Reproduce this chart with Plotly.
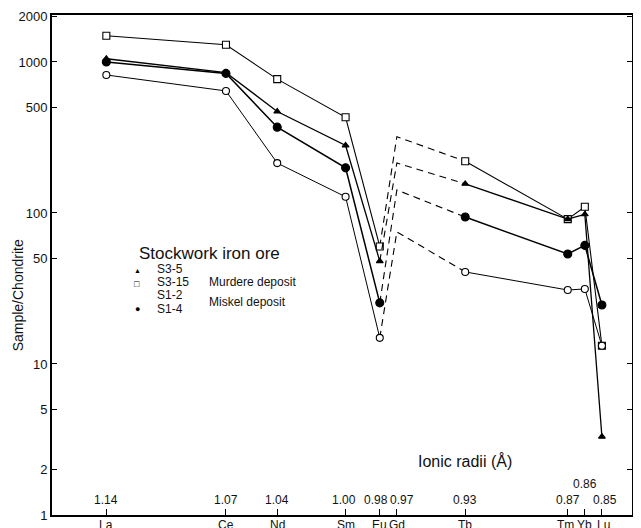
import plotly.graph_objects as go

# ---- data ----
elements = ["La", "Ce", "Nd", "Sm", "Eu", "Gd", "Tb", "Tm", "Yb", "Lu"]
radii = [1.14, 1.07, 1.04, 1.00, 0.98, 0.97, 0.93, 0.87, 0.86, 0.85]
radius_labels = ["1.14", "1.07", "1.04", "1.00", "0.98", "0.97", "0.93", "0.87", "0.86", "0.85"]

s3_15 = [1490, 1300, 770, 430, 60, 320, 220, 91, 110, 13.2]   # open square
s3_5 = [1050, 850, 470, 280, 48, 214, 156, 91, 98, 3.3]       # filled triangle
s1_4 = [1000, 840, 370, 199, 25.4, 142, 94, 53.5, 61, 24.6]   # filled circle
s1_2 = [820, 643, 214, 128, 14.9, 75, 40.7, 30.9, 31.4, 13.2] # open circle

y_tickvals = [1, 2, 5, 10, 50, 100, 500, 1000, 2000]
y_ticktext = ["1", "2", "5", "10", "50", "100", "500", "1000", "2000"]

# (name, values, symbol, fill, size, line width)
series = [
    ("S3-15", s3_15, "square", "white", 7, 1.1),
    ("S3-5", s3_5, "triangle-up", "black", 6, 1.3),
    ("S1-4", s1_4, "circle", "black", 8, 1.5),
    ("S1-2", s1_2, "circle", "white", 7, 1.0),
]

EU = elements.index("Eu")
TB = elements.index("Tb")

fig = go.Figure()
for name, vals, sym, fill, msize, lw in series:
    mk = dict(symbol=sym, size=msize, color=fill, line=dict(color="black", width=1.1))
    fig.add_trace(go.Scatter(
        x=radii[EU:TB + 1], y=vals[EU:TB + 1], mode="lines",
        line=dict(color="black", width=1.1, dash="7px,5px"),
        showlegend=False, name=name, hoverinfo="skip"))
    fig.add_trace(go.Scatter(
        x=radii[:EU + 1], y=vals[:EU + 1], mode="lines+markers",
        line=dict(color="black", width=lw), marker=mk,
        showlegend=False, name=name))
    fig.add_trace(go.Scatter(
        x=radii[TB:], y=vals[TB:], mode="lines+markers",
        line=dict(color="black", width=lw), marker=mk,
        showlegend=False, name=name))

font_main = "Arial, Liberation Sans, sans-serif"

# horizontal nudges for crowded radius labels (styling only)
label_shift = {"1.00": -2, "0.98": -4, "0.97": 5, "0.85": 3}
element_shift = {"Tm": -2, "Lu": 2}

annotations = []
for r, lab in zip(radii, radius_labels):
    yy = 0.062 if lab == "0.86" else 0.03
    annotations.append(dict(x=r, y=yy, xref="x", yref="paper", text=lab, showarrow=False,
                            xshift=label_shift.get(lab, 0),
                            font=dict(size=12, color="#111", family=font_main),
                            xanchor="center", yanchor="middle"))
for r, el in zip(radii, elements):
    annotations.append(dict(x=r, y=0.0, xref="x", yref="paper", text=el, showarrow=False,
                            yshift=-10, xshift=element_shift.get(el, 0),
                            font=dict(size=12, color="#111", family=font_main),
                            xanchor="center", yanchor="middle"))

annotations += [
    dict(x=0.712, y=0.108, xref="paper", yref="paper", text="Ionic radii (Å)", showarrow=False,
         font=dict(size=16, color="#111", family=font_main), xanchor="center", yanchor="middle"),
    dict(x=-0.058, y=0.44, xref="paper", yref="paper", text="Sample/Chondrite", showarrow=False,
         textangle=-90, font=dict(size=14, color="#111", family=font_main),
         xanchor="center", yanchor="middle"),
    dict(x=0.1466, y=0.524, xref="paper", yref="paper", text="Stockwork iron ore", showarrow=False,
         font=dict(size=17, color="#111", family=font_main), xanchor="left", yanchor="middle"),
    dict(x=0.178, y=0.492, xref="paper", yref="paper", text="S3-5", showarrow=False,
         font=dict(size=12, color="#111", family=font_main), xanchor="left", yanchor="middle"),
    dict(x=0.178, y=0.466, xref="paper", yref="paper", text="S3-15", showarrow=False,
         font=dict(size=12, color="#111", family=font_main), xanchor="left", yanchor="middle"),
    dict(x=0.178, y=0.44, xref="paper", yref="paper", text="S1-2", showarrow=False,
         font=dict(size=12, color="#111", family=font_main), xanchor="left", yanchor="middle"),
    dict(x=0.178, y=0.413, xref="paper", yref="paper", text="S1-4", showarrow=False,
         font=dict(size=12, color="#111", family=font_main), xanchor="left", yanchor="middle"),
    dict(x=0.267, y=0.466, xref="paper", yref="paper", text="Murdere deposit", showarrow=False,
         font=dict(size=12, color="#111", family=font_main), xanchor="left", yanchor="middle"),
    dict(x=0.267, y=0.427, xref="paper", yref="paper", text="Miskel deposit", showarrow=False,
         font=dict(size=12, color="#111", family=font_main), xanchor="left", yanchor="middle"),
    dict(x=0.147, y=0.49, xref="paper", yref="paper", text="▲", showarrow=False,
         font=dict(size=7, color="black", family=font_main), xanchor="center", yanchor="middle"),
    dict(x=0.147, y=0.462, xref="paper", yref="paper", text="□", showarrow=False,
         font=dict(size=9, color="black", family=font_main), xanchor="center", yanchor="middle"),
    dict(x=0.147, y=0.413, xref="paper", yref="paper", text="●", showarrow=False,
         font=dict(size=9, color="black", family=font_main), xanchor="center", yanchor="middle"),
]

# the page body adds an 8px offset; figure sized so the plot frame lands at 52..632 x 15..515
fig.update_layout(
    width=633, height=520,
    margin=dict(l=44, r=9, t=7, b=13, autoexpand=False),
    paper_bgcolor="white", plot_bgcolor="white",
    font=dict(family=font_main, color="#111"),
    annotations=annotations,
    showlegend=False,
)
fig.update_xaxes(
    range=[1.1718, 0.8324], tickvals=radii, showticklabels=False,
    ticks="inside", ticklen=6, tickwidth=1.2, tickcolor="black",
    showline=True, linecolor="black", linewidth=1.5, mirror=True,
    showgrid=False, zeroline=False, automargin=False,
)
fig.update_yaxes(
    type="log", range=[0, 3.311], tickvals=y_tickvals, ticktext=y_ticktext,
    ticks="inside", ticklen=5, tickwidth=1.2, tickcolor="black",
    showline=True, linecolor="black", linewidth=2, mirror="ticks",
    showgrid=False, zeroline=False, automargin=False,
    tickfont=dict(size=13, color="#111", family=font_main),
)

fig.write_html("out.html")
